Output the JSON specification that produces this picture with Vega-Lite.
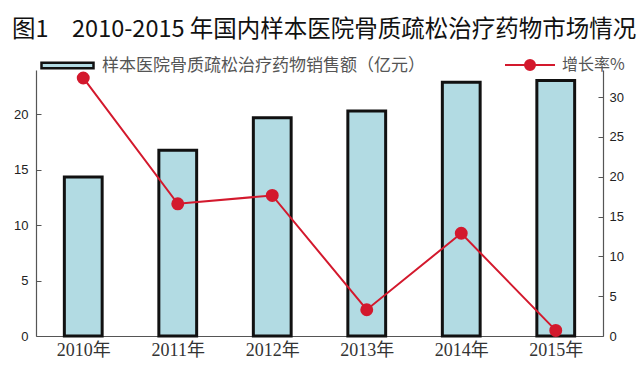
{
  "$schema": "https://vega.github.io/schema/vega-lite/v6.json",
  "autosize": {"type": "none"},
  "width": 567,
  "height": 266,
  "padding": {"left": 36, "top": 70, "right": 37, "bottom": 35},
  "background": "white",
  "title": {
    "text": "图1\u30002010-2015 年国内样本医院骨质疏松治疗药物市场情况",
    "anchor": "start",
    "frame": "group",
    "dx": -24,
    "offset": -3,
    "font": "Noto Sans CJK SC",
    "fontSize": 23.5,
    "fontWeight": "normal",
    "color": "#111111"
  },
  "config": {
    "view": {"stroke": null},
    "axis": {"grid": false, "domainColor": "#555555", "tickColor": "#555555", "domainWidth": 1.2}
  },
  "data": {
    "values": [
      {"year": "2010年", "sales": 14.35, "growth": 32.4},
      {"year": "2011年", "sales": 16.75, "growth": 16.6},
      {"year": "2012年", "sales": 19.7, "growth": 17.65},
      {"year": "2013年", "sales": 20.3, "growth": 3.3},
      {"year": "2014年", "sales": 22.9, "growth": 12.9},
      {"year": "2015年", "sales": 23.05, "growth": 0.7}
    ]
  },
  "encoding": {
    "x": {
      "field": "year",
      "type": "nominal",
      "sort": null,
      "scale": {"paddingInner": 0.6, "paddingOuter": 0.3},
      "axis": {
        "title": null,
        "labelAngle": 0,
        "labelFont": "Liberation Serif, Noto Sans CJK SC",
        "labelFontSize": 18,
        "labelColor": "#333333",
        "labelPadding": 10,
        "tickBand": "extent",
        "tickSize": -5
      }
    }
  },
  "layer": [
    {
      "mark": {"type": "bar", "stroke": "#111111", "strokeWidth": 3},
      "encoding": {
        "y": {
          "field": "sales",
          "type": "quantitative",
          "scale": {"domain": [0, 24], "nice": false},
          "axis": {
            "title": null,
            "values": [0, 5, 10, 15, 20],
            "labelFont": "Liberation Sans",
            "labelFontSize": 13,
            "labelColor": "#222222",
            "tickSize": -5,
            "labelPadding": 13
          }
        },
        "fill": {
          "datum": "样本医院骨质疏松治疗药物销售额（亿元）",
          "scale": {"range": ["#b2dbe3"]},
          "legend": {
            "title": null,
            "orient": "none",
            "legendX": 4,
            "legendY": -32,
            "symbolType": "M-1,-0.11H1V0.11H-1Z",
            "symbolSize": 2704,
            "symbolStrokeColor": "#111111",
            "symbolStrokeWidth": 2.5,
            "labelFont": "Noto Sans CJK SC",
            "labelFontSize": 17,
            "labelColor": "#555555",
            "labelOffset": 7,
            "labelLimit": 420
          }
        }
      }
    },
    {
      "mark": {"type": "line", "strokeWidth": 2, "point": {"filled": true, "size": 120, "color": "#d3192d"}},
      "encoding": {
        "y": {
          "field": "growth",
          "type": "quantitative",
          "scale": {"domain": [0, 33.4], "nice": false},
          "axis": {
            "title": null,
            "orient": "right",
            "values": [0, 5, 10, 15, 20, 25, 30],
            "labelFont": "Liberation Sans",
            "labelFontSize": 13,
            "labelColor": "#222222",
            "tickSize": -5,
            "labelPadding": 11
          }
        },
        "stroke": {
          "datum": "增长率%",
          "scale": {"range": ["#d3192d"]},
          "legend": {
            "title": null,
            "orient": "none",
            "legendX": 468,
            "legendY": -31,
            "symbolType": "M-1,0H1M-0.2,0A0.2,0.2 0 1 1 0.2,0A0.2,0.2 0 1 1 -0.2,0Z",
            "symbolSize": 2500,
            "symbolFillColor": "#d3192d",
            "symbolStrokeWidth": 2,
            "labelFont": "Noto Sans CJK SC",
            "labelFontSize": 16,
            "labelColor": "#555555",
            "labelOffset": 6,
            "labelLimit": 200
          }
        }
      }
    }
  ],
  "resolve": {"scale": {"y": "independent", "fill": "independent", "stroke": "independent"}}
}
